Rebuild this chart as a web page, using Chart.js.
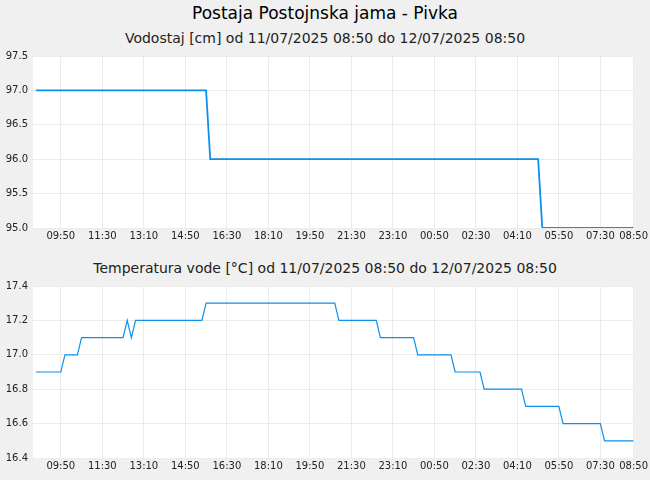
<!DOCTYPE html>
<html><head><meta charset="utf-8">
<script src="https://cdn.jsdelivr.net/npm/chart.js@4/dist/chart.umd.min.js"></script>
<style>
body{margin:0;width:650px;height:480px;background:#f0f0f0;font-family:"DejaVu Sans";position:relative;overflow:hidden}
.t{position:absolute;left:0;width:650px;text-align:center;color:#000}
canvas{position:absolute;left:0}
</style></head><body>
<div class="t" style="top:3px;font-size:17px;">Postaja Postojnska jama - Pivka</div>
<div class="t" style="top:30px;font-size:14px;color:#222">Vodostaj [cm] od 11/07/2025 08:50 do 12/07/2025 08:50</div>
<div class="t" style="top:260px;font-size:14px;color:#222">Temperatura vode [°C] od 11/07/2025 08:50 do 12/07/2025 08:50</div>
<div style="position:absolute;top:45px;left:0;width:650px;height:200px"><canvas id="c1"></canvas></div>
<div style="position:absolute;top:275px;left:0;width:650px;height:205px"><canvas id="c2"></canvas></div>
<script>
// minutes since 11/07/2025 08:50
const levelTimes = [0, 410, 420, 1210, 1220, 1440];
const levelValues = [97, 97, 96, 96, 95, 95];
const tempTimes = [0, 60, 70, 100, 110, 210, 220, 230, 240, 400, 410, 720, 730, 820, 830, 910, 920, 1000, 1010, 1070, 1080, 1170, 1180, 1260, 1270, 1360, 1370, 1440];
const tempValues = [16.9, 16.9, 17.0, 17.0, 17.1, 17.1, 17.2, 17.1, 17.2, 17.2, 17.3, 17.3, 17.2, 17.2, 17.1, 17.1, 17.0, 17.0, 16.9, 16.9, 16.8, 16.8, 16.7, 16.7, 16.6, 16.6, 16.5, 16.5];
const tickMinutes = [60,160,260,360,460,560,660,760,860,960,1060,1160,1260,1360,1440];
const tickLabels = ["09:50","11:30","13:10","14:50","16:30","18:10","19:50","21:30","23:10","00:50","02:30","04:10","05:50","07:30","08:50"];

const bg = {id:'bg',beforeDraw(c){const a=c.chartArea,x=c.ctx;x.save();x.fillStyle='#fff';x.fillRect(a.left,a.top,a.right-a.left,a.bottom-a.top);x.restore();}};
function make(id, times, vals, ymin, ymax, step, lw, xh){
  new Chart(document.getElementById(id), {
    type:'line',
    data:{datasets:[{data:times.map((t,i)=>({x:t,y:vals[i]})),borderColor:'#0a90ee',borderWidth:lw,pointRadius:0,tension:0,fill:false}]},
    options:{responsive:true,maintainAspectRatio:false,animation:false,
      layout:{padding:{top:10,right:10,left:0,bottom:0}},
      plugins:{legend:{display:false},tooltip:{enabled:false}},
      scales:{
        x:{type:'linear',min:-7,max:1440,
          afterBuildTicks(s){s.ticks=tickMinutes.map(v=>({value:v}));},
          afterFit(s){s.height=xh;},
          ticks:{autoSkip:false,maxRotation:0,padding:2,color:'#222',font:{family:'DejaVu Sans',size:10},
            callback:(v)=>tickLabels[tickMinutes.indexOf(v)]},
          grid:{color:'#ececec',drawTicks:false},border:{display:false}},
        y:{min:ymin,max:ymax,
          afterFit(s){s.width=33;},
          ticks:{stepSize:step,padding:5,color:'#222',font:{family:'DejaVu Sans',size:10}},
          grid:{color:'#ececec',drawTicks:false},border:{display:false}}
      }},
    plugins:[bg]
  });
}
make('c1', levelTimes, levelValues, 95, 97.5, 0.5, 1.8, 17);
make('c2', tempTimes, tempValues, 16.4, 17.4, 0.2, 1.2, 22);
</script></body></html>
